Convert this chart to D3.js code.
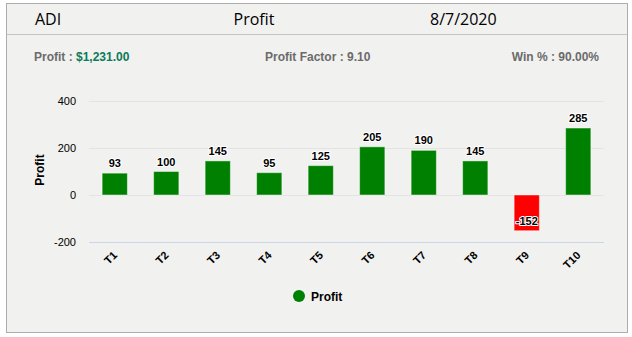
<!DOCTYPE html>
<html>
<head>
<meta charset="utf-8">
<script src="https://cdn.jsdelivr.net/npm/d3@7"></script>
<style>
  html, body { margin: 0; padding: 0; background: #ffffff; }
  svg { display: block; }
</style>
</head>
<body>
<svg id="chart" width="632" height="337"></svg>
<script>
// Trade results for ADI on 8/7/2020
const symbol = "ADI";
const title = "Profit";
const dateLabel = "8/7/2020";
const trades = ["T1", "T2", "T3", "T4", "T5", "T6", "T7", "T8", "T9", "T10"];
const profits = [93, 100, 145, 95, 125, 205, 190, 145, -152, 285];
const yTicks = [-200, 0, 200, 400];
const totalProfitText = "$1,231.00";
const profitFactorText = "9.10";
const winPctText = "90.00%";
const seriesName = "Profit";

const svg = d3.select("#chart");

// panel
svg.append("rect").attr("x", 6.5).attr("y", 3.5).attr("width", 621).attr("height", 329)
  .attr("fill", "#f1f1ef").attr("stroke", "#adadad").attr("stroke-width", 1);
svg.append("line").attr("x1", 7).attr("x2", 627).attr("y1", 34.5).attr("y2", 34.5)
  .attr("stroke", "#c4c4c4");

// header
const headFont = "'Open Sans', 'Noto Sans', sans-serif";
svg.append("text").attr("x", 35).attr("y", 25).attr("font-family", headFont)
  .attr("font-size", 16).attr("fill", "#000").text(symbol);
svg.append("text").attr("x", 254).attr("y", 25).attr("text-anchor", "middle").attr("font-family", headFont)
  .attr("font-size", 16).attr("fill", "#000").text(title);
svg.append("text").attr("x", 430).attr("y", 25).attr("font-family", headFont)
  .attr("font-size", 16).attr("fill", "#000").text(dateLabel);

// summary line
const statFont = "'Liberation Sans Narrow', 'Liberation Sans', Arial, sans-serif";
const s1 = svg.append("text").attr("x", 34).attr("y", 61).attr("font-family", statFont)
  .attr("font-size", 12).attr("font-weight", "bold").attr("fill", "#6b6b6b");
s1.append("tspan").text("Profit : ");
s1.append("tspan").attr("fill", "#0b7a5a").text(totalProfitText);
svg.append("text").attr("x", 265).attr("y", 61).attr("font-family", statFont)
  .attr("font-size", 12).attr("font-weight", "bold").attr("fill", "#6b6b6b")
  .text("Profit Factor : " + profitFactorText);
svg.append("text").attr("x", 599).attr("y", 61).attr("text-anchor", "end").attr("font-family", statFont)
  .attr("font-size", 12).attr("font-weight", "bold").attr("fill", "#6b6b6b")
  .text("Win % : " + winPctText);

// scales
const x = d3.scaleBand().domain(trades).range([89, 604]).padding(0);
const y = d3.scaleLinear().domain([-200, 400]).range([242, 101]);
const barW = x.bandwidth() * 0.49;
const font = "'Liberation Sans', Arial, sans-serif";

// gridlines
const g = svg.append("g");
g.selectAll("line.grid").data(yTicks.filter(t => t !== -200)).join("line")
  .attr("x1", 89).attr("x2", 604)
  .attr("y1", d => Math.round(y(d)) + 0.5).attr("y2", d => Math.round(y(d)) + 0.5)
  .attr("stroke", "#e3e3e3");
g.append("line").attr("x1", 89).attr("x2", 604)
  .attr("y1", Math.round(y(-200)) + 0.5).attr("y2", Math.round(y(-200)) + 0.5)
  .attr("stroke", "#ccd6eb");

// y axis labels
const yAxis = d3.axisLeft(y).tickValues(yTicks).tickSize(0).tickPadding(0)
  .tickFormat(d => String(d));
const ya = svg.append("g").attr("transform", "translate(76,0)").call(yAxis);
ya.select(".domain").remove();
ya.selectAll("text").attr("font-family", font).attr("font-size", 11).attr("fill", "#000");

// y axis title
svg.append("text").attr("transform", "translate(44,170) rotate(-90)").attr("text-anchor", "middle")
  .attr("font-family", font).attr("font-size", 12).attr("font-weight", "bold").attr("fill", "#000")
  .text(seriesName);

// bars
const data = trades.map((t, i) => ({ t, v: profits[i] }));
svg.append("g").selectAll("rect").data(data).join("rect")
  .attr("x", d => x(d.t) + x.bandwidth() / 2 - barW / 2)
  .attr("y", d => Math.min(y(d.v), y(0)))
  .attr("width", barW)
  .attr("height", d => Math.abs(y(d.v) - y(0)))
  .attr("fill", d => d.v >= 0 ? "#008000" : "#ff0000")
  .attr("stroke", "rgba(255,255,255,0.45)").attr("stroke-width", 1);

// value labels
svg.append("g").selectAll("text").data(data).join("text")
  .attr("x", d => x(d.t) + x.bandwidth() / 2)
  .attr("y", d => y(d.v) - 6)
  .attr("text-anchor", "middle")
  .attr("font-family", font).attr("font-size", 11).attr("font-weight", "bold")
  .attr("fill", "#000").attr("stroke", "#fff").attr("stroke-width", 2)
  .attr("paint-order", "stroke").attr("stroke-linejoin", "round")
  .text(d => d.v);

// x axis labels (rotated)
svg.append("g").selectAll("text").data(trades).join("text")
  .attr("transform", d => `translate(${x(d) + x.bandwidth() / 2 + 3},${256}) rotate(-45)`)
  .attr("text-anchor", "end")
  .attr("font-family", font).attr("font-size", 11).attr("font-weight", "bold").attr("fill", "#000")
  .text(d => d);

// legend
svg.append("circle").attr("cx", 299).attr("cy", 296).attr("r", 6).attr("fill", "#008000");
svg.append("text").attr("x", 311).attr("y", 300.5).attr("font-family", font)
  .attr("font-size", 12).attr("font-weight", "bold").attr("fill", "#000").text(seriesName);
</script>
</body>
</html>
